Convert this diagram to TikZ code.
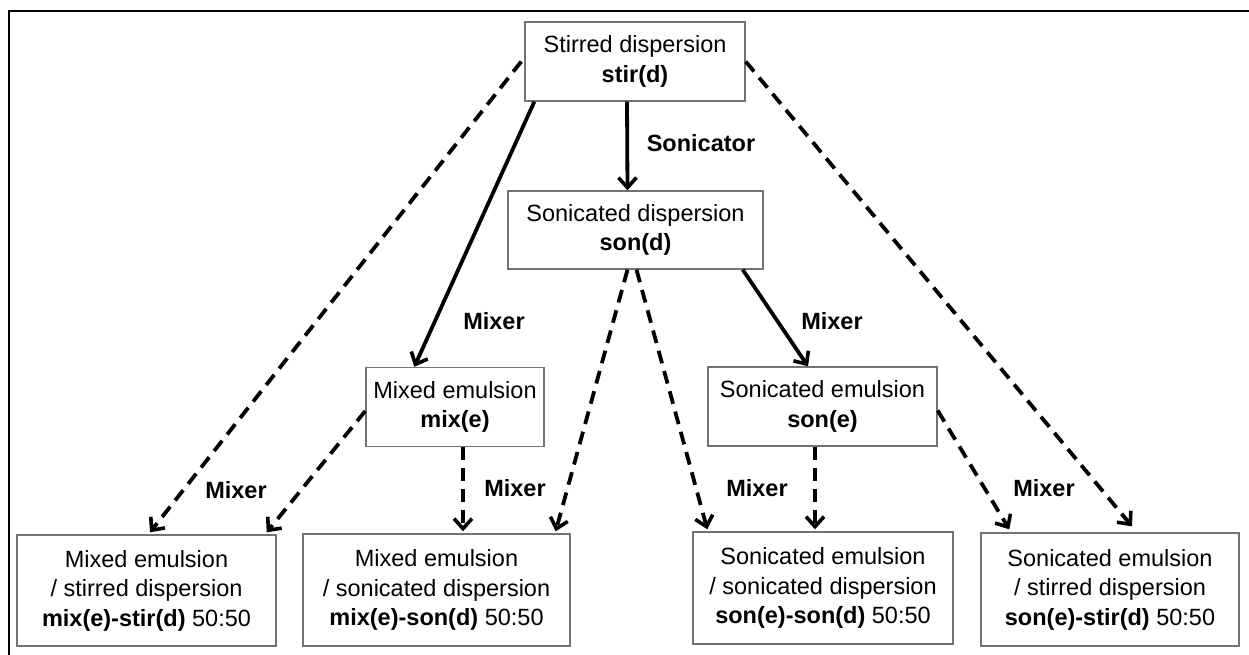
\documentclass[tikz,border=0pt]{standalone}
\usepackage{fontspec}
\setmainfont{Liberation Sans}
\usetikzlibrary{arrows.meta,calc}
\begin{document}
\begin{tikzpicture}[x=1pt,y=-1pt,
  box/.style={draw=black!55,line width=1.4pt,fill=white,rectangle,inner sep=0pt,align=center,
    font=\fontsize{23.5}{29.5}\selectfont},
  lbl/.style={font=\fontsize{23.5}{27}\selectfont\bfseries,inner sep=0pt},
  solidarrow/.style={line width=3.8pt,-{Straight Barb[length=10pt,width=18pt,line width=3.6pt]}},
  dasharrow/.style={line width=3.8pt,dash pattern=on 13pt off 8pt,-{Straight Barb[length=10pt,width=18pt,line width=3.6pt]}}
]
\useasboundingbox (0,0) rectangle (1249,655);
\fill[white] (0,0) rectangle (1249,655);
\draw[line width=2.5pt] (9,660) -- (9,11) -- (1255,11);

\node[box,minimum width=220pt,minimum height=79pt] (stir) at (635,61.5) {Stirred dispersion\\\textbf{stir(d)}};
\node[box,minimum width=255pt,minimum height=78pt] (sond) at (635.5,230) {Sonicated dispersion\\\textbf{son(d)}};
\node[box,minimum width=178pt,minimum height=79pt] (mixe) at (455,407) {Mixed emulsion\\\textbf{mix(e)}};
\node[box,minimum width=229pt,minimum height=79pt] (sone) at (822.5,406.5) {Sonicated emulsion\\\textbf{son(e)}};
\node[box,minimum width=259pt,minimum height=111pt] (b1) at (146.5,590.5) {Mixed emulsion\\/ stirred dispersion\\\textbf{mix(e)-stir(d)} 50:50};
\node[box,minimum width=267pt,minimum height=112pt] (b2) at (436.5,590) {Mixed emulsion\\/ sonicated dispersion\\\textbf{mix(e)-son(d)} 50:50};
\node[box,minimum width=260pt,minimum height=112pt] (b3) at (823,588) {Sonicated emulsion\\/ sonicated dispersion\\\textbf{son(e)-son(d)} 50:50};
\node[box,minimum width=258pt,minimum height=113pt] (b4) at (1110,589.5) {Sonicated emulsion\\/ stirred dispersion\\\textbf{son(e)-stir(d)} 50:50};

\node[lbl] (lson) at (701,143) {Sonicator};
\node[lbl] (lm1) at (494,321) {Mixer};
\node[lbl] (lm2) at (832,321) {Mixer};
\node[lbl] (lm3) at (236,490) {Mixer};
\node[lbl] (lm4) at (515,488) {Mixer};
\node[lbl] (lm5) at (757,488) {Mixer};
\node[lbl] (lm6) at (1044,488) {Mixer};

% solid connectors
\draw[solidarrow] ($(stir.south)+(-8,0)$) -- ($(sond.north)+(-8,0)$);
\draw[solidarrow] ($(stir.south west)+(10,0)$) -- ($(mixe.north west)+(49,0)$);
\draw[solidarrow] ($(sond.south east)+(-21,0)$) -- ($(sone.north)+(-14.5,0)$);

% dashed connectors
\draw[dasharrow] ($(stir.west)+(-3,0)$) -- ($(b1.north)+(3.5,-2)$);
\draw[dasharrow] (stir.east) -- ($(b4.north)+(22,-6)$);
\draw[dasharrow] ($(mixe.west)+(0,4)$) -- ($(b1.north east)+(-10,-2)$);
\draw[dasharrow] ($(mixe.south)+(8,0)$) -- ($(b2.north)+(26.5,-2)$);
\draw[dasharrow] ($(sond.south)+(-8,0)$) -- ($(b2.north east)+(-15,-2)$);
\draw[dasharrow] ($(sond.south)+(1,0)$) -- ($(b3.north west)+(15,-2)$);
\draw[dasharrow] ($(sone.south)+(-7.5,0)$) -- ($(b3.north)+(-8,-2)$);
\draw[dasharrow] ($(sone.east)+(0,4)$) -- ($(b4.north west)+(29,-3)$);
\end{tikzpicture}
\end{document}
